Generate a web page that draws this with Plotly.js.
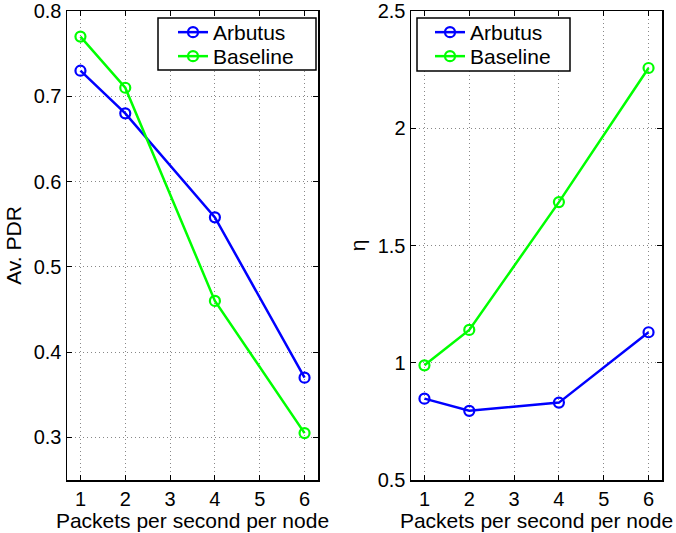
<!DOCTYPE html>
<html><head><meta charset="utf-8">
<script src="https://cdn.plot.ly/plotly-3.0.1.min.js"></script>
<style>html,body{margin:0;padding:0;background:#fff}#chart{width:676px;height:533px}</style>
</head><body><div id="chart"></div>
<script>
const xPackets = [1, 2, 4, 6];
const pdrArbutus = [0.73, 0.68, 0.558, 0.37];
const pdrBaseline = [0.77, 0.71, 0.46, 0.305];
const etaArbutus = [0.847, 0.795, 0.83, 1.13];
const etaBaseline = [0.989, 1.14, 1.685, 2.257];
const xTicks = [1, 2, 3, 4, 5, 6];
const pdrTicks = [0.3, 0.4, 0.5, 0.6, 0.7, 0.8];
const etaTicks = [0.5, 1, 1.5, 2, 2.5];

const FONT = 'Liberation Sans, Arial, Helvetica, sans-serif';
const blue = '#0000ff', green = '#00ff00';
const W = 676, H = 533;
function tr(x, y, name, color, xa, ya, legend) {
  return {x: x, y: y, name: name, type: 'scatter', mode: 'lines+markers',
    xaxis: xa, yaxis: ya, legend: legend,
    line: {color: color, width: 2.5},
    marker: {symbol: 'circle-open', size: 10, color: color, line: {width: 2.2, color: color}}};
}
const data = [
  tr(xPackets, pdrArbutus, 'Arbutus', blue, 'x', 'y', 'legend'),
  tr(xPackets, pdrBaseline, 'Baseline', green, 'x', 'y', 'legend2'),
  tr(xPackets, etaArbutus, 'Arbutus', blue, 'x2', 'y2', 'legend3'),
  tr(xPackets, etaBaseline, 'Baseline', green, 'x2', 'y2', 'legend4')
];
const common = {ticks: 'inside', ticklen: 5, tickcolor: '#000', mirror: 'ticks', showline: true,
  linecolor: '#000', linewidth: 1.5, showgrid: true, gridcolor: '#888', griddash: '1px,3px', gridwidth: 1,
  zeroline: false, automargin: false, tickfont: {size: 20, color: '#000', family: FONT}};
function xax(domain, anchor) {
  return Object.assign({}, common, {domain: domain, anchor: anchor, range: [0.7, 6.3], tickvals: xTicks,
    title: {text: 'Packets per second per node', font: {size: 21, color: '#000', family: FONT}, standoff: 1}});
}
function yax(domain, anchor, range, ticks, title) {
  return Object.assign({}, common, {domain: domain, anchor: anchor, range: range, tickvals: ticks,
    title: {text: title, font: {size: 21, color: '#000', family: FONT}, standoff: 6}});
}
const yDom = [53/H, 1 - 11/H];
const legendStyle = (x, top) => ({x: x/W, y: 1 - top/H, xanchor: 'left', yanchor: 'top',
  bordercolor: 'rgba(0,0,0,0)', borderwidth: 0, bgcolor: 'rgba(0,0,0,0)',
  font: {size: 21, color: '#000', family: FONT}, tracegroupgap: 0});
const box = (x0, x1, y0, y1) => ({type: 'rect', xref: 'paper', yref: 'paper', layer: 'above',
  x0: x0/W, x1: x1/W, y0: 1 - y1/H, y1: 1 - y0/H, line: {color: '#000', width: 1.5}, fillcolor: '#fff'});
const layout = {
  width: W, height: H, margin: {l: 0, r: 0, t: 0, b: 0},
  paper_bgcolor: '#fff', plot_bgcolor: '#fff', font: {family: FONT, color: '#000'},
  xaxis: xax([67/W, 318/W], 'y'),
  yaxis: yax(yDom, 'x', [0.25, 0.8], pdrTicks, 'Av. PDR'),
  xaxis2: xax([411/W, 662/W], 'y2'),
  yaxis2: yax(yDom, 'x2', [0.5, 2.5], etaTicks, 'η'),
  legend: legendStyle(173, 12),
  legend2: legendStyle(173, 36),
  legend3: legendStyle(430, 12),
  legend4: legendStyle(430, 36),
  shapes: [box(158, 316, 18, 70), box(417, 570, 18, 71)],
  showlegend: true
};
Plotly.newPlot('chart', data, layout, {displayModeBar: false, staticPlot: true});
</script></body></html>
